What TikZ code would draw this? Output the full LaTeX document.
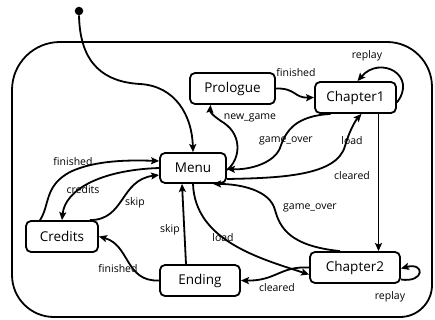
\documentclass[tikz,border=0pt]{standalone}
\usepackage{fontspec}
\setmainfont{Open Sans}
\usetikzlibrary{arrows.meta,calc}
\begin{document}
\begin{tikzpicture}[x=1pt,y=-1pt,
  state/.style={draw,line width=1.8pt,rounded corners=5pt,inner sep=0pt,minimum height=31pt,font=\fontsize{13.5}{16}\selectfont},
  edge/.style={line width=1.8pt,-{Stealth[length=8pt,width=7pt,inset=1.5pt]}},
  lbl/.style={font=\fontsize{10.5}{12}\selectfont,inner sep=0pt},
  frame/.style={line width=1.8pt}]
\useasboundingbox (0,0) rectangle (435,320);
% outer frame
\draw[frame] (12,200) {[rounded corners=48pt] -- (12,42) -- (200,42)}
  {[rounded corners=45pt] -- (432,42) -- (432,200)}
  {[rounded corners=32pt] -- (432,317) -- (200,317)}
  {[rounded corners=42pt] -- (12,317) -- (12,200)} -- cycle;
% states
\node[state,minimum width=85pt] (Prologue) at (232.5,88.5) {Prologue};
\node[state,minimum width=81pt] (Chapter1) at (355.5,97.5) {Chapter1};
\node[state,minimum width=66pt,minimum height=30pt] (Menu) at (193,168) {Menu};
\node[state,minimum width=72pt] (Credits) at (62,236.5) {Credits};
\node[state,minimum width=80pt] (Ending) at (200,280.5) {Ending};
\node[state,minimum width=90pt] (Chapter2) at (355,267.5) {Chapter2};
\node[circle,fill,inner sep=0pt,minimum size=8.5pt] (init) at (79,11) {};
% initial
\draw[edge] (init.south) .. controls (80,65) and (105,82) .. (140,84) .. controls (175,86) and (192,115) .. (Menu.north);
% Prologue -> Chapter1
\draw[edge] (Prologue.east) .. controls (296,88) and (294,98) .. (Chapter1.west);
\node[lbl] (l1) at (296,73) {finished};
% Chapter1 loop
\draw[edge] ([yshift=-5pt]Chapter1.east) .. controls (418,75) and (380,55) .. ([xshift=2pt]Chapter1.north);
\node[lbl] (l2) at (367,56) {replay};
% Menu -> Prologue
\draw[edge] ([yshift=-2pt]Menu.east) .. controls (240,160) and (243,136) .. (224,123) .. controls (213,116) and (210,112) .. ([xshift=-22pt]Prologue.south);
\node[lbl] (l3) at (250,118) {new\_game};
% Chapter1 -> Menu
\draw[edge] ([xshift=-25pt]Chapter1.south) .. controls (296,116) and (286,130) .. (280,148) .. controls (274,163) and (250,170) .. ([yshift=-1pt]Menu.east);
\node[lbl] (l4) at (286,141) {game\_over};
% Menu -> Chapter1 load
\draw[edge] ([yshift=-11pt]Menu.east) .. controls (280,178) and (337,176) .. (345,146) .. controls (349,132) and (355,121) .. ([xshift=6pt]Chapter1.south);
\node[lbl] (l5) at (352,141) {load};
% Chapter1 -> Chapter2
\draw[edge] ([xshift=23pt]Chapter1.south) -- ([xshift=23.5pt]Chapter2.north);
\node[lbl] (l6) at (352,176) {cleared};
% Chapter2 -> Menu
\draw[edge] ([xshift=-15pt]Chapter2.north) .. controls (290,246) and (280,228) .. (275,210) .. controls (270,190) and (240,184) .. ([xshift=20pt]Menu.south);
\node[lbl] (l7) at (310,208) {game\_over};
% Menu -> Chapter2 load
\draw[edge] (Menu.south) .. controls (195,240) and (258,258) .. ([yshift=-7pt]Chapter2.west);
\node[lbl] (l8) at (223,238) {load};
% Chapter2 -> Ending
\draw[edge] (Chapter2.west) .. controls (280,266) and (276,281) .. (Ending.east);
\node[lbl] (l9) at (277,288) {cleared};
% Chapter2 loop
\draw[edge] ([yshift=-12pt]Chapter2.east) .. controls (425,283) and (425,262) .. ([yshift=-1pt]Chapter2.east);
\node[lbl] (l10) at (390,297) {replay};
% Ending -> Menu skip
\draw[edge] ([xshift=-14pt]Ending.north) -- ([xshift=-11pt]Menu.south);
\node[lbl] (l11) at (170,230) {skip};
% Ending -> Credits
\draw[edge] (Ending.west) .. controls (125,282) and (130,245) .. (Credits.east);
\node[lbl] (l12) at (118,269) {finished};
% Credits -> Menu skip
\draw[edge] ([xshift=28pt]Credits.north) .. controls (125,220) and (120,180) .. ([yshift=-7pt]Menu.west);
\node[lbl] (l13) at (135,203) {skip};
% Menu -> Credits
\draw[edge] (Menu.west) .. controls (100,170) and (65,190) .. (Credits.north);
\node[lbl] (l14) at (83,190) {credits};
% Credits -> Menu finished
\draw[edge] ([xshift=-22pt]Credits.north) .. controls (50,205) and (44,186) .. (70,172) .. controls (95,160) and (130,160) .. ([yshift=7pt]Menu.west);
\node[lbl] (l15) at (73,162) {finished};
\end{tikzpicture}
\end{document}
